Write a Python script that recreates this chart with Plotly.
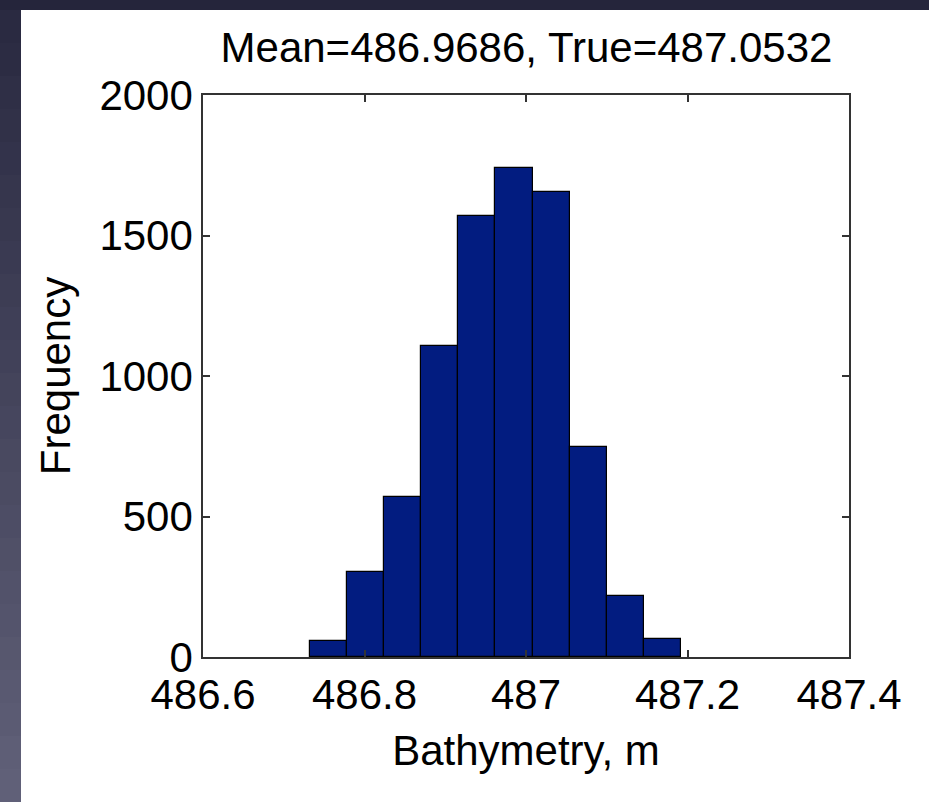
import plotly.graph_objects as go

# Histogram of bathymetry estimates (10 equal-width bins)
bin_centers = [486.7553, 486.8013, 486.8472, 486.8932, 486.9391,
               486.9851, 487.0311, 487.0770, 487.1230, 487.1689]
bin_counts = [58, 302, 570, 1108, 1569, 1740, 1656, 746, 218, 64]
bin_width = 0.04596

x_ticks = [486.6, 486.8, 487.0, 487.2, 487.4]
x_tick_text = ["486.6", "486.8", "487", "487.2", "487.4"]
y_ticks = [0, 500, 1000, 1500, 2000]

title_text = "Mean=486.9686, True=487.0532"

W, H = 929, 802
L, R, T, B = 203, 80, 95, 145
FONT = "Liberation Sans, Arial, Helvetica, sans-serif"

fig = go.Figure()
fig.add_trace(go.Bar(
    x=bin_centers, y=bin_counts, width=[bin_width] * len(bin_centers),
    marker=dict(color="#021c80", line=dict(color="#000000", width=1.2)),
    hoverinfo="x+y",
))

pw = W - L - R
ph = H - T - B


def px_x(p):
    return (p - L) / pw


def px_y(p):
    return (H - B - p) / ph


# dark slide border: top band and a left band that lightens downward
shapes = [dict(type="rect", xref="paper", yref="paper",
               x0=px_x(-5), x1=px_x(W + 5), y0=px_y(10), y1=px_y(-5),
               fillcolor="#25253b", line=dict(width=0), layer="below")]
n = 24
c0 = (0x2a, 0x2a, 0x41)
c1 = (0x60, 0x60, 0x78)
for i in range(n):
    t = i / (n - 1)
    c = tuple(int(round(a + (b - a) * t)) for a, b in zip(c0, c1))
    y_top = 10 + (H - 10) * i / n
    y_bot = 10 + (H - 10) * (i + 1) / n
    shapes.append(dict(type="rect", xref="paper", yref="paper",
                       x0=px_x(-5), x1=px_x(21), y0=px_y(y_bot + 1), y1=px_y(y_top),
                       fillcolor="rgb(%d,%d,%d)" % c, line=dict(width=0), layer="below"))

axis_common = dict(
    showline=True, linecolor="#333333", linewidth=1.5, mirror="ticks",
    ticks="inside", ticklen=7, tickwidth=1.5, tickcolor="#333333",
    showgrid=False, zeroline=False,
    tickfont=dict(family=FONT, size=42, color="#000000"),
)

fig.update_layout(
    width=W, height=H,
    margin=dict(l=L, r=R, t=T, b=B, pad=0),
    paper_bgcolor="#ffffff", plot_bgcolor="#ffffff",
    showlegend=False, bargap=0,
    font=dict(family=FONT, size=42, color="#000000"),
    title=dict(text=title_text, x=px_x(526.5), xanchor="center",
               xref="paper", y=1 - 47 / H, yref="container", yanchor="middle",
               font=dict(family=FONT, size=42, color="#000000")),
    xaxis=dict(range=[486.6, 487.4], tickvals=x_ticks, ticktext=x_tick_text,
               title=dict(text="Bathymetry, m", standoff=18,
                          font=dict(family=FONT, size=42)),
               **axis_common),
    yaxis=dict(range=[0, 2000], tickvals=y_ticks,
               title=dict(text="Frequency", standoff=16,
                          font=dict(family=FONT, size=42)),
               **axis_common),
    shapes=shapes,
)

fig.write_html("out.html")
